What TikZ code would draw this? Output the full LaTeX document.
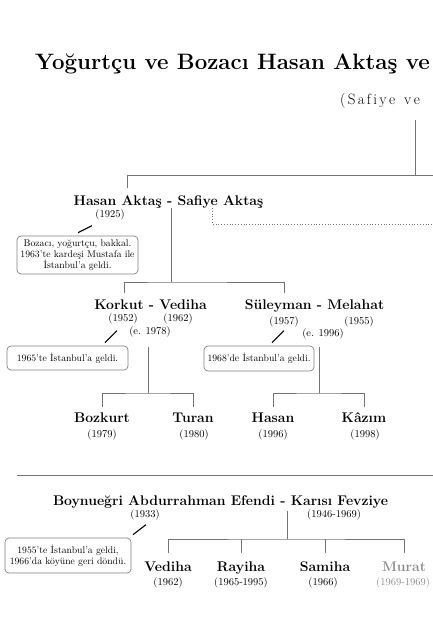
\documentclass[tikz,border=0pt]{standalone}
\usepackage{fontspec}
\usetikzlibrary{calc}

\newcommand{\spacedgap}{\kern2.3pt}

\begin{document}
\begin{tikzpicture}[x=1pt,y=-1pt,
  person/.style={font=\bfseries\fontsize{14}{16}\selectfont,anchor=base,inner sep=0pt,text height=10pt},
  year/.style={font=\fontsize{10.5}{12}\selectfont,anchor=base,inner sep=0pt},
  note/.style={draw=black!50,line width=0.7pt,rounded corners=4pt,font=\fontsize{9.7}{11}\selectfont,align=center,inner sep=0pt},
  link/.style={draw=black!55,line width=0.8pt},
  slash/.style={line width=1.1pt},
  lost/.style={text=black!45}]
  \useasboundingbox (0,0) rectangle (433,638);
  \clip (0,0) rectangle (433,638);
  % heading, cut at the right edge
  \node[anchor=base west,inner sep=0pt,font=\bfseries\fontsize{22.3}{25}\selectfont] (title) at (35,69) {Yoğurtçu ve Bozacı Hasan Aktaş ve};
  \node[anchor=base west,inner sep=0pt,font=\fontsize{15}{17}\selectfont] (subtitle) at (340,104)
    {(\spacedgap S\spacedgap a\spacedgap f\spacedgap i\spacedgap y\spacedgap e\spacedgap\ \spacedgap v\spacedgap e};

  % first family
  \node[person] (hs) at (168.5,205) {Hasan Aktaş - Safiye Aktaş};
  \node[year] (y1925) at (110,217.5) {(1925)};
  \node[note,minimum width=121pt,minimum height=38pt] (note1) at (77.5,255)
    {Bozacı, yoğurtçu, bakkal.\\1963'te kardeşi Mustafa ile\\İstanbul'a geldi.};

  \node[person] (kv) at (150.5,309) {Korkut - Vediha};
  \node[year] (y1952) at (123,321.5) {(1952)};
  \node[year] (y1962) at (178,321.5) {(1962)};
  \node[year] (e1978) at (150,334.5) {(e. 1978)};
  \node[note,minimum width=121pt,minimum height=24pt] (note2) at (67.5,358) {1965'te İstanbul'a geldi.};

  \node[person] (sm) at (314.5,309) {Süleyman - Melahat};
  \node[year] (y1957) at (284,324.5) {(1957)};
  \node[year] (y1955) at (359,324.5) {(1955)};
  \node[year] (e1996) at (323,336.5) {(e. 1996)};
  \node[note,minimum width=110pt,minimum height=25pt] (note3) at (259,358.5) {1968'de İstanbul'a geldi.};

  \node[person] (bozkurt) at (102,422) {Bozkurt};
  \node[person] (turan) at (193,422) {Turan};
  \node[person] (hasan) at (273,422) {Hasan};
  \node[person] (kazim) at (364,422) {Kâzım};
  \node[year] (y1979) at (102,437.5) {(1979)};
  \node[year] (y1980) at (194,437.5) {(1980)};
  \node[year] (y1996) at (273,437.5) {(1996)};
  \node[year] (y1998) at (365,437.5) {(1998)};

  % second family
  \node[person] (ba) at (220.5,505) {Boynueğri Abdurrahman Efendi - Karısı Fevziye};
  \node[year] (y1933) at (145,517.5) {(1933)};
  \node[year] (y1946) at (334,517.5) {(1946-1969)};
  \node[note,minimum width=126pt,minimum height=35pt] (note4) at (68,555.5)
    {1955'te İstanbul'a geldi,\\1966'da köyüne geri döndü.};

  \node[person] (vediha) at (168,571) {Vediha};
  \node[person] (rayiha) at (241,571) {Rayiha};
  \node[person] (samiha) at (325,571) {Samiha};
  \node[person,lost] (murat) at (404,571) {Murat};
  \node[year] (y1962b) at (168,585.5) {(1962)};
  \node[year] (y1965) at (241,585.5) {(1965-1995)};
  \node[year] (y1966) at (323,585.5) {(1966)};
  \node[year,lost] (y1969) at (403,585.5) {(1969-1969)};

  % connectors
  \coordinate (root) at (415,120);
  \coordinate (rootbar) at (127,175);
  \coordinate (edge1) at (440,175);
  \coordinate (hs-up) at (127,188);
  \draw[link] (root) -- (root |- rootbar);
  \draw[link] (edge1) -- (rootbar) -- (hs-up);

  \coordinate (hs-side) at (212,208);
  \coordinate (side-edge) at (440,224);
  \draw[link,dotted] (hs-side) |- (side-edge);

  \coordinate (hs-down) at (171,208);
  \coordinate (hs-bar) at (171,282);
  \coordinate (kv-up) at (124,293);
  \coordinate (sm-up) at (284,293);
  \draw[link] (hs-down) -- (hs-bar);
  \draw[link] (kv-up) |- (hs-bar) -| (sm-up);

  \coordinate (kv-down) at (148,347);
  \coordinate (kv-bar) at (148,393);
  \draw[link] (kv-down) -- (kv-bar);
  \draw[link] ([yshift=5pt]bozkurt.north) |- (kv-bar) -| ([yshift=5pt]turan.north);

  \coordinate (sm-down) at (319,347);
  \coordinate (sm-bar) at (319,393);
  \draw[link] (sm-down) -- (sm-bar);
  \draw[link] ([yshift=5pt]hasan.north) |- (sm-bar) -| ([yshift=5pt]kazim.north);

  \coordinate (sep-l) at (17,475);
  \coordinate (sep-r) at (440,475);
  \draw[link] (sep-l) -- (sep-r);

  \coordinate (ba-down) at (287,511);
  \coordinate (ba-bar) at (287,539);
  \draw[link] (ba-down) -- (ba-bar);
  \draw[link] ([yshift=8pt]vediha.north) |- (ba-bar) -| ([yshift=8pt]murat.north);
  \draw[link] ([yshift=8pt]rayiha.north) -- (rayiha.north |- ba-bar);
  \draw[link] ([yshift=8pt]samiha.north) -- (samiha.north |- ba-bar);

  % note pointers
  \draw[slash] (note1.north) ++(0.5,-3) -- ++(14,-7);
  \draw[slash] (note2.north) ++(37.5,-3) -- ++(12,-12);
  \draw[slash] (note3.north) ++(13,-3) -- ++(12,-12);
  \draw[slash] (note4.north) ++(65,-3) -- ++(13,-10);
\end{tikzpicture}
\end{document}
